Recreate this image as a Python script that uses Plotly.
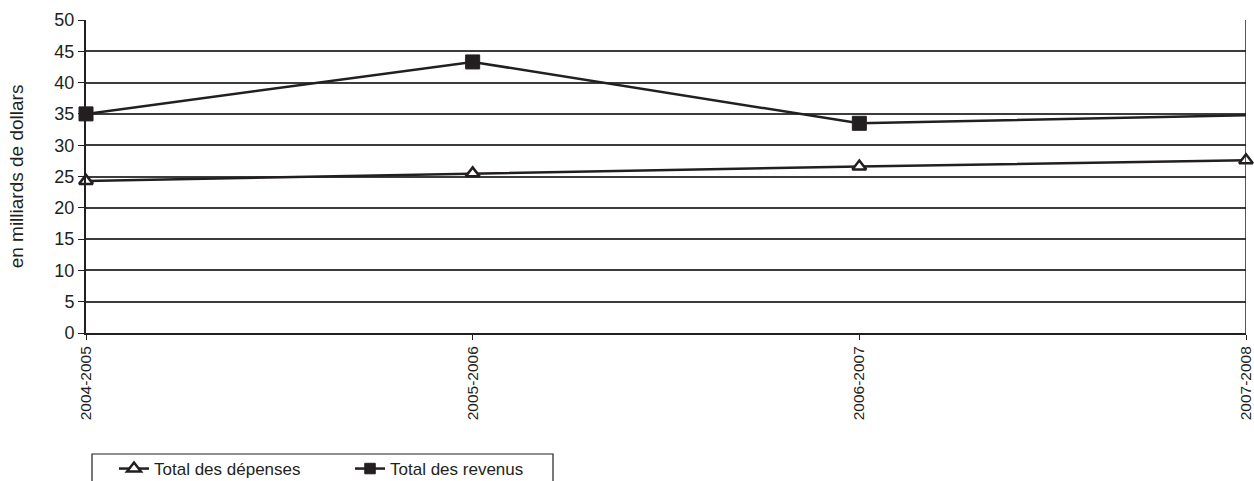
import plotly.graph_objects as go

periods = ["2004-2005", "2005-2006", "2006-2007", "2007-2008"]
depenses = [24.3, 25.5, 26.6, 27.6]
revenus = [35.0, 43.3, 33.5, 34.8]
y_ticks = [0, 5, 10, 15, 20, 25, 30, 35, 40, 45, 50]

ink = "#231f20"
xpos = list(range(len(periods)))

fig = go.Figure()
fig.add_trace(go.Scatter(
    x=xpos, y=depenses, name="Total des dépenses", mode="lines+markers",
    line=dict(color=ink, width=2.5),
    marker=dict(symbol="triangle-up", size=12, color="white", opacity=1,
                line=dict(color=ink, width=2.5)),
    cliponaxis=False,
))
fig.add_trace(go.Scatter(
    x=xpos, y=revenus, name="Total des revenus", mode="lines+markers",
    line=dict(color=ink, width=2.5),
    marker=dict(symbol="square", size=[14, 14, 14, 0], color=ink, opacity=1,
                line=dict(color=ink, width=1)),
    cliponaxis=False,
))

fig.update_layout(
    width=1254, height=481,
    margin=dict(l=86, r=8, t=20, b=148),
    paper_bgcolor="white", plot_bgcolor="white",
    font=dict(family="Liberation Sans, Arial, sans-serif", size=14, color=ink),
    showlegend=True,
    legend=dict(
        orientation="h", xref="container", yref="container",
        x=114 / 1254, y=(481 - 451) / 481, xanchor="left", yanchor="top",
        borderwidth=0, bgcolor="rgba(0,0,0,0)", font=dict(size=17),
        entrywidth=191, traceorder="normal",
    ),
    xaxis=dict(
        range=[0, 3], tickmode="array", tickvals=xpos, ticktext=periods,
        tickangle=-90, showgrid=False, zeroline=False, automargin=False,
        ticklabeloverflow="allow",
        showline=True, linecolor=ink, linewidth=2,
        ticks="outside", ticklen=5, tickcolor=ink, tickfont=dict(size=15.5),
    ),
    yaxis=dict(
        range=[0, 50], tickmode="array", tickvals=y_ticks, automargin=False,
        showgrid=True, gridcolor="#3c3c3c", gridwidth=1.5,
        zeroline=False, showline=True, linecolor=ink, linewidth=2,
        ticks="outside", ticklen=6, tickcolor=ink, tickfont=dict(size=18),
        title=dict(text="en milliards de dollars", standoff=26,
                   font=dict(size=19)),
    ),
)
# right border line of the plotting area
fig.add_shape(type="line", xref="x", yref="paper", x0=3, x1=3, y0=0, y1=1,
              line=dict(color=ink, width=1.5))
# frame around the legend
fig.add_shape(type="rect", xref="paper", yref="paper",
              x0=(92 - 86) / 1160, x1=(553 - 86) / 1160,
              y0=(333 - 495) / 313, y1=(333 - 454) / 313,
              line=dict(color=ink, width=1.2), fillcolor="rgba(0,0,0,0)")

fig.write_html("out.html")
